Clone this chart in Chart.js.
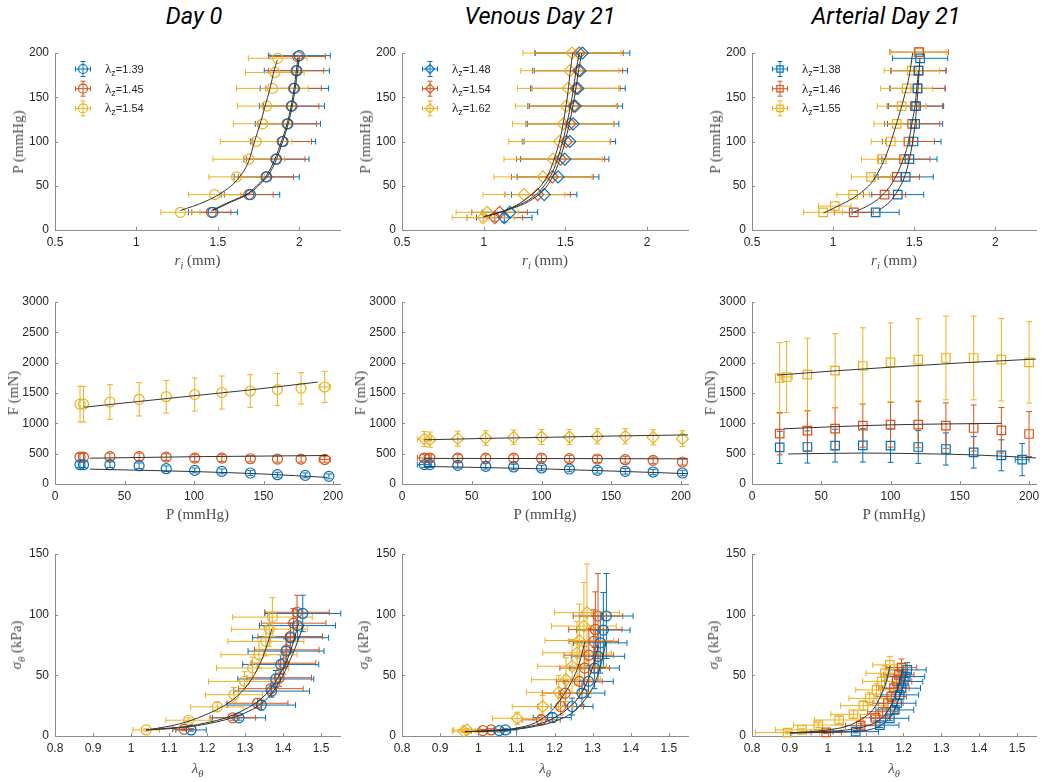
<!DOCTYPE html>
<html>
<head>
<meta charset="utf-8">
<title>Radius, force and stress curves</title>
<script src="https://cdn.jsdelivr.net/npm/chart.js@4.4.1/dist/chart.umd.min.js"></script>
<style>
  body { margin: 0; background: #fff; }
  #page { position: relative; width: 1050px; height: 782px; overflow: hidden; background: #fff; }
  #page canvas { position: absolute; }
  .title { position: absolute; top: 2px; height: 32px; line-height: 32px; white-space: nowrap;
           transform: translateX(-50%); font: italic 400 23.5px Roboto, "Liberation Sans", sans-serif; color: #000; }
  .xt, .yt { position: absolute; font: 15px "Liberation Serif", "DejaVu Serif", serif; color: #4d4d4d;
             white-space: nowrap; line-height: 18px; }
  .xt { transform: translateX(-50%); }
  .yt { transform: translate(-50%, -50%) rotate(-90deg); }
  .xt sub, .yt sub { font-size: 70%; vertical-align: -0.35em; line-height: 0; }
</style>
</head>
<body>
<div id="page"></div>
<script>
// ---- ticks / labels ----
const riTicks  = [0.5, 1, 1.5, 2];
const pTicks   = [0, 50, 100, 150, 200];
const fTicks   = [0, 500, 1000, 1500, 2000, 2500, 3000];
const lamTicks = [0.8, 0.9, 1, 1.1, 1.2, 1.3, 1.4, 1.5];
const sigTicks = [0, 50, 100, 150];

const titles   = ['Day 0', 'Venous Day 21', 'Arterial Day 21'];
const d0Lambda = ['1.39', '1.45', '1.54'];
const vnLambda = ['1.48', '1.54', '1.62'];
const arLambda = ['1.38', '1.46', '1.55'];

// ---- row 1: [r_i (mm), P (mmHg), sd r_i, sd P] ----
const d0RiBlue   = [[1.47,20,0.15,0],[1.70,40,0.18,0],[1.80,60,0.2,0],[1.86,80,0.2,0],[1.90,100,0.2,0],[1.93,120,0.2,0],[1.955,140,0.2,0],[1.97,160,0.21,0],[1.985,180,0.2,0],[2.0,197,0.19,0]];
const d0RiOrange = [[1.46,20,0.12,0],[1.69,40,0.15,0],[1.795,60,0.17,0],[1.855,80,0.18,0],[1.895,100,0.18,0],[1.925,120,0.18,0],[1.95,140,0.17,0],[1.965,160,0.17,0],[1.98,180,0.17,0],[1.99,196,0.17,0]];
const d0RiYellow = [[1.27,20,0.12,0],[1.48,40,0.16,0],[1.615,60,0.17,0],[1.69,80,0.22,0],[1.735,100,0.22,0],[1.775,120,0.18,0],[1.80,140,0.18,0],[1.835,160,0.22,0],[1.85,178,0.18,0],[1.867,194,0.18,0]];
const vnRiBlue   = [[1.126,14,0.17,5],[1.16,20,0.17,0],[1.37,40,0.2,0],[1.455,60,0.25,0],[1.496,80,0.27,0],[1.527,100,0.28,0],[1.547,120,0.28,0],[1.56,140,0.29,0],[1.576,160,0.29,0],[1.59,180,0.29,0],[1.604,200,0.29,0]];
const vnRiOrange = [[1.068,14,0.17,4],[1.097,20,0.17,0],[1.33,40,0.2,0],[1.42,60,0.25,0],[1.47,80,0.27,0],[1.506,100,0.27,0],[1.528,120,0.27,0],[1.55,140,0.27,0],[1.565,160,0.27,0],[1.58,180,0.27,0],[1.584,200,0.27,0]];
const vnRiYellow = [[0.997,14,0.19,4],[1.021,20,0.19,0],[1.246,40,0.25,0],[1.363,60,0.3,0],[1.424,80,0.3,0],[1.463,100,0.31,0],[1.486,120,0.31,0],[1.504,140,0.31,0],[1.516,160,0.31,0],[1.527,180,0.3,0],[1.54,200,0.3,0]];
const arRiBlue   = [[1.262,20,0.145,0],[1.398,40,0.16,0],[1.447,60,0.17,0],[1.47,80,0.17,0],[1.495,100,0.17,0],[1.505,120,0.17,0],[1.511,140,0.17,0],[1.52,160,0.17,0],[1.526,180,0.17,0],[1.536,194,0.17,0]];
const arRiOrange = [[1.127,20,0.12,0],[1.317,40,0.13,0],[1.392,60,0.14,0],[1.437,80,0.16,0],[1.464,100,0.16,0],[1.487,120,0.17,0],[1.503,140,0.17,0],[1.52,160,0.17,0],[1.526,180,0.17,0],[1.53,201,0.18,0]];
const arRiYellow = [[0.938,20,0.12,0],[1.01,27,0.1,0],[1.123,40,0.1,0],[1.233,60,0.12,0],[1.30,80,0.125,0],[1.355,100,0.12,0],[1.392,120,0.14,0],[1.422,140,0.15,0],[1.453,160,0.16,0],[1.485,180,0.17,0],[1.526,201,0.17,0]];

const d0RiFitBlue   = [[1.47,22],[1.585,32],[1.70,42],[1.76,52],[1.81,62],[1.86,80],[1.898,100],[1.932,120],[1.957,140],[1.975,160],[1.99,180],[2.0,195]];
const d0RiFitOrange = [[1.46,22],[1.575,32],[1.69,42],[1.75,52],[1.80,62],[1.85,80],[1.89,100],[1.925,120],[1.95,140],[1.968,160],[1.982,180],[1.992,195]];
const d0RiFitYellow = [[1.27,22],[1.42,32],[1.54,44],[1.615,56],[1.69,78],[1.725,100],[1.76,120],[1.79,140],[1.82,160],[1.845,180],[1.865,192]];
const vnRiFitBlue   = [[1.0,15],[1.1,20],[1.2,26],[1.3,35],[1.38,48],[1.435,65],[1.475,85],[1.505,105],[1.535,130],[1.56,155],[1.58,180],[1.60,200]];
const vnRiFitOrange = [[1.0,15],[1.1,20],[1.2,27],[1.3,37],[1.37,50],[1.42,65],[1.46,85],[1.49,105],[1.52,130],[1.545,155],[1.565,180],[1.585,200]];
const vnRiFitYellow = [[1.0,15],[1.1,20],[1.2,28],[1.28,38],[1.35,50],[1.40,65],[1.44,85],[1.47,105],[1.495,130],[1.515,155],[1.53,180],[1.545,200]];
const arRiFitBlue   = [[1.28,22],[1.35,32],[1.40,45],[1.44,60],[1.47,80],[1.49,100],[1.505,120],[1.515,140],[1.523,160],[1.53,180],[1.535,194]];
const arRiFitOrange = [[1.127,20],[1.22,28],[1.29,37],[1.37,55],[1.43,79],[1.465,100],[1.49,125],[1.505,141],[1.515,160],[1.526,180]];
const arRiFitYellow = [[0.94,19],[1.03,27],[1.123,36],[1.19,45],[1.247,56],[1.33,86],[1.39,120],[1.443,154],[1.47,175],[1.49,200]];

// ---- row 2: [P (mmHg), F (mN), sd P, sd F] ----
const d0FBlue   = [[18,318,0,45],[20.5,318,0,45],[39.5,318,0,45],[60.5,301,0,45],[80,252,0,45],[100.5,224,0,40],[120,208,0,40],[140.5,181,0,40],[160,153,0,40],[180,142,0,40],[197,126,0,40]];
const d0FOrange = [[18,443,0,60],[20.5,443,0,60],[39.5,450,0,60],[60.5,450,0,60],[80,443,0,55],[100.5,427,0,55],[120,427,0,55],[140.5,416,0,50],[160,410,0,50],[177,410,0,50],[194,405,4,45]];
const d0FYellow = [[18,1316,0,294],[20.5,1316,0,294],[39.5,1352,0,285],[60.5,1396,0,275],[80,1439,0,269],[100.5,1475,0,272],[120,1508,0,272],[140.5,1533,0,269],[160,1555,0,264],[177,1577,0,258],[194,1599,4,258]];
const vnFBlue   = [[16,319,5,45],[20,319,0,45],[40,308,0,45],[60,291,0,45],[80,280,0,45],[100,264,0,45],[120,247,0,45],[140,225,0,45],[160,209,0,45],[180,198,0,45],[201,181,0,45]];
const vnFOrange = [[16,428,5,55],[20,428,0,55],[40,428,0,55],[60,425,0,55],[80,425,0,55],[100,425,0,55],[120,417,0,55],[140,412,0,55],[160,401,0,55],[180,390,0,55],[201,363,0,50]];
const vnFYellow = [[16,742,5,125],[20,731,0,125],[40,747,0,125],[60,758,0,120],[80,769,0,120],[100,775,0,125],[120,775,0,125],[140,786,0,125],[160,786,0,125],[180,769,0,125],[201,747,0,130]];
const arFBlue   = [[20,604,0,265],[40,610,0,265],[60,632,0,270],[80,637,0,275],[100,632,0,275],[120,610,0,270],[140,577,0,265],[160,522,0,260],[180,473,0,255],[195,401,5,265]];
const arFOrange = [[20,830,0,350],[40,879,0,330],[60,912,0,345],[80,962,0,355],[100,978,0,370],[120,978,0,380],[140,962,0,375],[160,923,0,380],[180,885,0,375],[200,824,0,370]];
const arFYellow = [[20,1747,0,585],[25,1764,4,585],[40,1802,0,600],[60,1868,0,610],[80,1945,0,630],[100,2005,0,650],[120,2049,0,675],[140,2077,0,690],[160,2077,0,690],[180,2049,0,680],[200,2005,0,670]];

const d0FFitBlue   = [[25,245],[100,205],[150,165],[196,108]];
const d0FFitOrange = [[25,425],[100,450],[196,470]];
const d0FFitYellow = [[21,1265],[60,1360],[100,1455],[140,1550],[189,1680]];
const vnFFitBlue   = [[16,290],[100,250],[205,170]];
const vnFFitOrange = [[16,422],[100,420],[205,415]];
const vnFFitYellow = [[16,728],[60,752],[100,768],[150,790],[205,810]];
const arFFitBlue   = [[26,495],[80,510],[120,500],[160,480],[205,430]];
const arFFitOrange = [[23,910],[60,945],[100,975],[140,990],[180,1000]];
const arFFitYellow = [[18,1795],[60,1865],[100,1925],[150,1995],[205,2060]];

// ---- row 3: [lambda_theta, sigma_theta (kPa), sd lambda, sd sigma] ----
const d0SBlue   = [[1.158,5,0.04,1],[1.284,15,0.07,2],[1.343,25.5,0.09,4],[1.37,37,0.1,5],[1.381,47,0.1,7],[1.394,59,0.1,8],[1.408,70,0.1,10],[1.42,81,0.1,12],[1.438,91,0.1,13],[1.452,101,0.1,15]];
const d0SOrange = [[1.14,5.5,0.03,1],[1.268,15,0.06,2],[1.333,27,0.08,4],[1.368,39,0.085,6],[1.39,48,0.085,7],[1.401,60,0.085,9],[1.41,71,0.085,10],[1.419,82,0.085,11],[1.428,93,0.085,12],[1.437,102,0.085,14]];
const d0SYellow = [[1.04,5,0.035,1],[1.152,13,0.06,2],[1.227,24,0.07,4],[1.271,34,0.075,6],[1.299,45,0.095,8],[1.32,56,0.095,9],[1.337,67,0.1,11],[1.355,78,0.1,12],[1.364,88,0.1,14],[1.372,98,0.105,16]];
const vnSBlue   = [[1.055,4.4,0.03,1],[1.071,5,0.03,1],[1.194,15.2,0.05,4],[1.246,24.3,0.055,7],[1.272,35.4,0.06,10],[1.289,45,0.065,13],[1.305,56,0.065,17],[1.314,65.7,0.07,21],[1.32,76.8,0.07,25],[1.328,87.3,0.07,31],[1.336,98.9,0.07,35]];
const vnSOrange = [[1.012,4.4,0.03,1],[1.034,5,0.03,1],[1.165,13.3,0.05,4],[1.216,24.3,0.06,7],[1.228,35.4,0.06,10],[1.265,45,0.06,14],[1.279,56,0.065,18],[1.29,66.6,0.065,22],[1.303,78,0.065,26],[1.307,87.8,0.07,31],[1.314,98.9,0.065,35]];
const vnSYellow = [[0.962,4,0.03,1],[0.97,5,0.035,1],[1.102,14.6,0.065,5],[1.169,24.3,0.08,9],[1.211,35.9,0.085,14],[1.23,46.4,0.09,18],[1.246,57.5,0.09,22],[1.259,68.5,0.09,26],[1.265,78.7,0.09,30],[1.277,90.6,0.085,36],[1.285,101.7,0.085,40]];
const arSBlue   = [[1.074,3.6,0.06,1],[1.138,9,0.05,2],[1.164,14.6,0.05,2],[1.177,21.5,0.05,3],[1.183,27,0.05,4],[1.19,33.9,0.05,4],[1.195,39.4,0.05,5],[1.201,44.9,0.05,5],[1.206,49,0.05,6],[1.21,54.5,0.05,6]];
const arSOrange = [[0.996,3,0.04,1],[1.087,8.5,0.04,2],[1.126,15,0.04,2],[1.145,20,0.04,3],[1.159,27,0.04,4],[1.168,32.5,0.04,4],[1.175,39.4,0.04,5],[1.182,45,0.04,5],[1.188,50.4,0.04,6],[1.195,56.4,0.04,7]];
const arSYellow = [[0.894,2.8,0.085,1],[0.932,5,0.07,1],[0.975,9,0.065,2],[1.03,13.2,0.065,3],[1.068,17.9,0.06,3],[1.094,25,0.06,4],[1.111,31,0.055,5],[1.129,38,0.055,5],[1.142,45,0.05,6],[1.151,51.7,0.05,6],[1.164,58.6,0.045,7]];

const d0SFitBlue   = [[1.04,5],[1.1,6],[1.15,7.5],[1.2,10],[1.25,13.5],[1.3,19],[1.34,26],[1.37,35],[1.395,47],[1.415,60],[1.435,75],[1.455,92]];
const d0SFitOrange = [[1.04,5],[1.1,6.5],[1.15,8],[1.2,11],[1.25,15],[1.3,22],[1.34,30],[1.37,40],[1.39,50],[1.41,62],[1.425,75],[1.44,92]];
const d0SFitYellow = [[1.04,5],[1.1,8],[1.15,12],[1.2,18],[1.25,26],[1.29,36],[1.32,48],[1.34,60],[1.355,72],[1.365,82],[1.37,88]];
const vnSFitBlue   = [[0.965,3.5],[1.05,4.5],[1.1,5.5],[1.15,8],[1.2,12],[1.25,20],[1.28,30],[1.305,43],[1.32,57],[1.335,77]];
const vnSFitOrange = [[0.965,3.5],[1.05,4.5],[1.1,6],[1.15,9],[1.2,15],[1.24,24],[1.27,35],[1.29,48],[1.305,62],[1.315,75]];
const vnSFitYellow = [[0.965,3.5],[1.05,4.5],[1.1,6.5],[1.15,11],[1.19,20],[1.22,32],[1.245,45],[1.265,60],[1.28,78]];
const arSFitBlue   = [[0.9,2.5],[1.0,3],[1.07,3.7],[1.12,6],[1.15,11],[1.17,18],[1.185,28],[1.198,40],[1.207,52]];
const arSFitOrange = [[0.9,2.5],[0.95,3],[1.0,3.8],[1.05,5],[1.1,8],[1.14,14],[1.165,24],[1.18,35],[1.19,45],[1.197,55]];
const arSFitYellow = [[0.9,2.5],[0.95,3.5],[1.0,5],[1.05,8],[1.09,14],[1.12,22],[1.14,33],[1.155,45],[1.165,58]];

// ---- look ----
const COLORS = ['#0072BD', '#D95319', '#EDB120'];
const AXIS = '#8c8c8c';
const TICK_TEXT = '#262626';
const FIT = '#333333';

// layout of the plot boxes on the page
const PAD_L = 50, PAD_T = 18, PAD_R = 25, PAD_B = 28;
const COL_L = [55, 402, 752], COL_R = [340, 688, 1036];
const ROW_T = [53, 302, 554], ROW_B = [230, 484, 736];
const Y_TITLE_GAP = [37, 42, 39], X_TITLE_GAP = [21, 21, 23];
const TITLE_X = [194, 540, 886];

// error bars drawn under the markers
const errorBars = {
  id: 'errorBars',
  beforeDatasetsDraw(chart) {
    const { ctx, scales: { x, y } } = chart;
    chart.data.datasets.forEach(ds => {
      if (!ds.errors) return;
      ctx.save();
      ctx.strokeStyle = ds.borderColor;
      ctx.lineWidth = 1;
      ctx.beginPath();
      ds.data.forEach((pt, i) => {
        const [ex, ey] = ds.errors[i];
        const px = x.getPixelForValue(pt.x), py = y.getPixelForValue(pt.y);
        if (ex) {
          const x1 = x.getPixelForValue(pt.x - ex), x2 = x.getPixelForValue(pt.x + ex);
          ctx.moveTo(x1, py); ctx.lineTo(x2, py);
          ctx.moveTo(x1, py - 3); ctx.lineTo(x1, py + 3);
          ctx.moveTo(x2, py - 3); ctx.lineTo(x2, py + 3);
        }
        if (ey) {
          const y1 = y.getPixelForValue(pt.y - ey), y2 = y.getPixelForValue(pt.y + ey);
          ctx.moveTo(px, y1); ctx.lineTo(px, y2);
          ctx.moveTo(px - 3, y1); ctx.lineTo(px + 3, y1);
          ctx.moveTo(px - 3, y2); ctx.lineTo(px + 3, y2);
        }
      });
      ctx.stroke();
      ctx.restore();
    });
  }
};

// matlab style ticks pointing into the plot
const inwardTicks = {
  id: 'inwardTicks',
  afterDraw(chart) {
    const { ctx, chartArea: a, scales: { x, y } } = chart;
    ctx.save();
    ctx.strokeStyle = AXIS;
    ctx.lineWidth = 1;
    ctx.beginPath();
    x.ticks.forEach(t => {
      const px = Math.round(x.getPixelForValue(t.value)) + 0.5;
      ctx.moveTo(px, a.bottom); ctx.lineTo(px, a.bottom - 3);
    });
    y.ticks.forEach(t => {
      const py = Math.round(y.getPixelForValue(t.value)) + 0.5;
      ctx.moveTo(a.left, py); ctx.lineTo(a.left + 3, py);
    });
    ctx.stroke();
    ctx.restore();
  }
};

// legend with the errorbar glyph, inside the top left corner
const errLegend = {
  id: 'errLegend',
  afterDraw(chart, args, opts) {
    if (!opts.labels) return;
    const { ctx, chartArea: a } = chart;
    opts.labels.forEach((lab, i) => {
      const ds = chart.data.datasets[opts.first + i];
      const cx = a.left + 28, cy = a.top + 16 + i * 19.7;
      ctx.save();
      ctx.strokeStyle = ds.borderColor;
      ctx.lineWidth = 1;
      ctx.beginPath();
      ctx.moveTo(cx - 7.5, cy); ctx.lineTo(cx + 7.5, cy);
      ctx.moveTo(cx - 7.5, cy - 2.5); ctx.lineTo(cx - 7.5, cy + 2.5);
      ctx.moveTo(cx + 7.5, cy - 2.5); ctx.lineTo(cx + 7.5, cy + 2.5);
      ctx.moveTo(cx, cy - 7.5); ctx.lineTo(cx, cy + 7.5);
      ctx.moveTo(cx - 2.5, cy - 7.5); ctx.lineTo(cx + 2.5, cy - 7.5);
      ctx.moveTo(cx - 2.5, cy + 7.5); ctx.lineTo(cx + 2.5, cy + 7.5);
      ctx.stroke();
      ctx.fillStyle = 'rgba(0,0,0,0)';
      ctx.lineWidth = 1.2;
      Chart.helpers.drawPoint(ctx, { pointStyle: ds.pointStyle, rotation: 0, radius: 4.5, borderWidth: 1.2 }, cx, cy);

      ctx.fillStyle = TICK_TEXT;
      ctx.textBaseline = 'alphabetic';
      let tx = a.left + 50;
      const base = cy + 4;
      ctx.font = '13px "Liberation Serif", serif';
      ctx.fillText('λ', tx, base);
      tx += ctx.measureText('λ').width;
      ctx.font = '9px "Liberation Sans", sans-serif';
      ctx.fillText('z', tx, base + 3);
      tx += ctx.measureText('z').width;
      ctx.font = '11px "Liberation Sans", sans-serif';
      ctx.fillText('=' + lab, tx, base);
      ctx.restore();
    });
  }
};

Chart.register(errorBars, inwardTicks, errLegend);

function axisOpts(range, ticks, isX) {
  return {
    type: 'linear',
    min: range[0],
    max: range[1],
    grid: { display: false, drawTicks: false },
    border: { display: true, color: AXIS, width: 1 },
    ticks: {
      autoSkip: false,
      maxRotation: 0,
      padding: isX ? 5 : 6,
      color: TICK_TEXT,
      font: { family: "'Liberation Sans', Arial, sans-serif", size: 12 },
      callback: v => String(v)
    },
    afterBuildTicks: s => { s.ticks = ticks.map(v => ({ value: v })); },
    afterFit: s => { if (isX) s.height = PAD_B; else s.width = PAD_L; }
  };
}

const page = document.getElementById('page');

function addText(cls, html, left, top) {
  const el = document.createElement('div');
  el.className = cls;
  el.innerHTML = html;
  el.style.left = left + 'px';
  el.style.top = top + 'px';
  page.appendChild(el);
}

function makePanel(p) {
  const L = COL_L[p.col], R = COL_R[p.col], T = ROW_T[p.row], B = ROW_B[p.row];
  const cv = document.createElement('canvas');
  cv.width = R - L + PAD_L + PAD_R;
  cv.height = B - T + PAD_T + PAD_B;
  cv.style.left = (L - PAD_L) + 'px';
  cv.style.top = (T - PAD_T) + 'px';
  page.appendChild(cv);

  const datasets = [];
  p.fits.forEach(f => datasets.push({
    data: f.map(([x, y]) => ({ x, y })),
    showLine: true,
    borderColor: FIT,
    borderWidth: 1,
    pointRadius: 0,
    cubicInterpolationMode: 'monotone',
    fill: false,
    clip: false
  }));
  p.series.forEach((s, i) => datasets.push({
    data: s.map(q => ({ x: q[0], y: q[1] })),
    errors: s.map(q => [q[2], q[3]]),
    showLine: false,
    pointStyle: p.marks[i],
    pointRadius: p.marks[i] === 'circle' ? 5 : 6,
    pointBorderWidth: 1.2,
    borderColor: COLORS[i],
    pointBorderColor: COLORS[i],
    pointBackgroundColor: 'rgba(0,0,0,0)',
    clip: false
  }));

  new Chart(cv, {
    type: 'scatter',
    data: { datasets },
    options: {
      responsive: false,
      animation: false,
      devicePixelRatio: 1,
      events: [],
      layout: { padding: { left: 0, top: PAD_T, right: PAD_R, bottom: 0 }, autoPadding: false },
      scales: {
        x: axisOpts(p.xRange, p.xTicks, true),
        y: axisOpts(p.yRange, p.yTicks, false)
      },
      plugins: {
        legend: { display: false },
        tooltip: { enabled: false },
        errLegend: { labels: p.legend || null, first: p.fits.length }
      }
    }
  });

  addText('xt', p.xTitle, (L + R) / 2, B + X_TITLE_GAP[p.row]);
  addText('yt', p.yTitle, L - Y_TITLE_GAP[p.row], (T + B) / 2);
}

titles.forEach((t, i) => addText('title', t, TITLE_X[i], 2));

const riTitle  = '<i>r</i><sub><i>i</i></sub> (mm)';
const pTitle   = 'P (mmHg)';
const fTitle   = 'F (mN)';
const sigTitle = '<i>σ</i><sub><i>θ</i></sub> (kPa)';
const lamTitle = '<i>λ</i><sub><i>θ</i></sub>';

[
  { col: 0, row: 0, xRange: [0.5, 2.25], xTicks: riTicks, yRange: [0, 200], yTicks: pTicks,
    series: [d0RiBlue, d0RiOrange, d0RiYellow], marks: ['circle', 'circle', 'circle'],
    fits: [d0RiFitBlue, d0RiFitOrange, d0RiFitYellow], legend: d0Lambda, xTitle: riTitle, yTitle: pTitle },
  { col: 1, row: 0, xRange: [0.5, 2.25], xTicks: riTicks, yRange: [0, 200], yTicks: pTicks,
    series: [vnRiBlue, vnRiOrange, vnRiYellow], marks: ['rectRot', 'rectRot', 'rectRot'],
    fits: [vnRiFitBlue, vnRiFitOrange, vnRiFitYellow], legend: vnLambda, xTitle: riTitle, yTitle: pTitle },
  { col: 2, row: 0, xRange: [0.5, 2.25], xTicks: riTicks, yRange: [0, 200], yTicks: pTicks,
    series: [arRiBlue, arRiOrange, arRiYellow], marks: ['rect', 'rect', 'rect'],
    fits: [arRiFitBlue, arRiFitOrange, arRiFitYellow], legend: arLambda, xTitle: riTitle, yTitle: pTitle },

  { col: 0, row: 1, xRange: [0, 205], xTicks: pTicks, yRange: [0, 3000], yTicks: fTicks,
    series: [d0FBlue, d0FOrange, d0FYellow], marks: ['circle', 'circle', 'circle'],
    fits: [d0FFitBlue, d0FFitOrange, d0FFitYellow], xTitle: pTitle, yTitle: fTitle },
  { col: 1, row: 1, xRange: [0, 205], xTicks: pTicks, yRange: [0, 3000], yTicks: fTicks,
    series: [vnFBlue, vnFOrange, vnFYellow], marks: ['circle', 'circle', 'rectRot'],
    fits: [vnFFitBlue, vnFFitOrange, vnFFitYellow], xTitle: pTitle, yTitle: fTitle },
  { col: 2, row: 1, xRange: [0, 205], xTicks: pTicks, yRange: [0, 3000], yTicks: fTicks,
    series: [arFBlue, arFOrange, arFYellow], marks: ['rect', 'rect', 'rect'],
    fits: [arFFitBlue, arFFitOrange, arFFitYellow], xTitle: pTitle, yTitle: fTitle },

  { col: 0, row: 2, xRange: [0.8, 1.55], xTicks: lamTicks, yRange: [0, 150], yTicks: sigTicks,
    series: [d0SBlue, d0SOrange, d0SYellow], marks: ['circle', 'circle', 'circle'],
    fits: [d0SFitBlue, d0SFitOrange, d0SFitYellow], xTitle: lamTitle, yTitle: sigTitle },
  { col: 1, row: 2, xRange: [0.8, 1.55], xTicks: lamTicks, yRange: [0, 150], yTicks: sigTicks,
    series: [vnSBlue, vnSOrange, vnSYellow], marks: ['circle', 'circle', 'rectRot'],
    fits: [vnSFitBlue, vnSFitOrange, vnSFitYellow], xTitle: lamTitle, yTitle: sigTitle },
  { col: 2, row: 2, xRange: [0.8, 1.55], xTicks: lamTicks, yRange: [0, 150], yTicks: sigTicks,
    series: [arSBlue, arSOrange, arSYellow], marks: ['rect', 'rect', 'rect'],
    fits: [arSFitBlue, arSFitOrange, arSFitYellow], xTitle: lamTitle, yTitle: sigTitle }
].forEach(makePanel);
</script>
</body>
</html>
